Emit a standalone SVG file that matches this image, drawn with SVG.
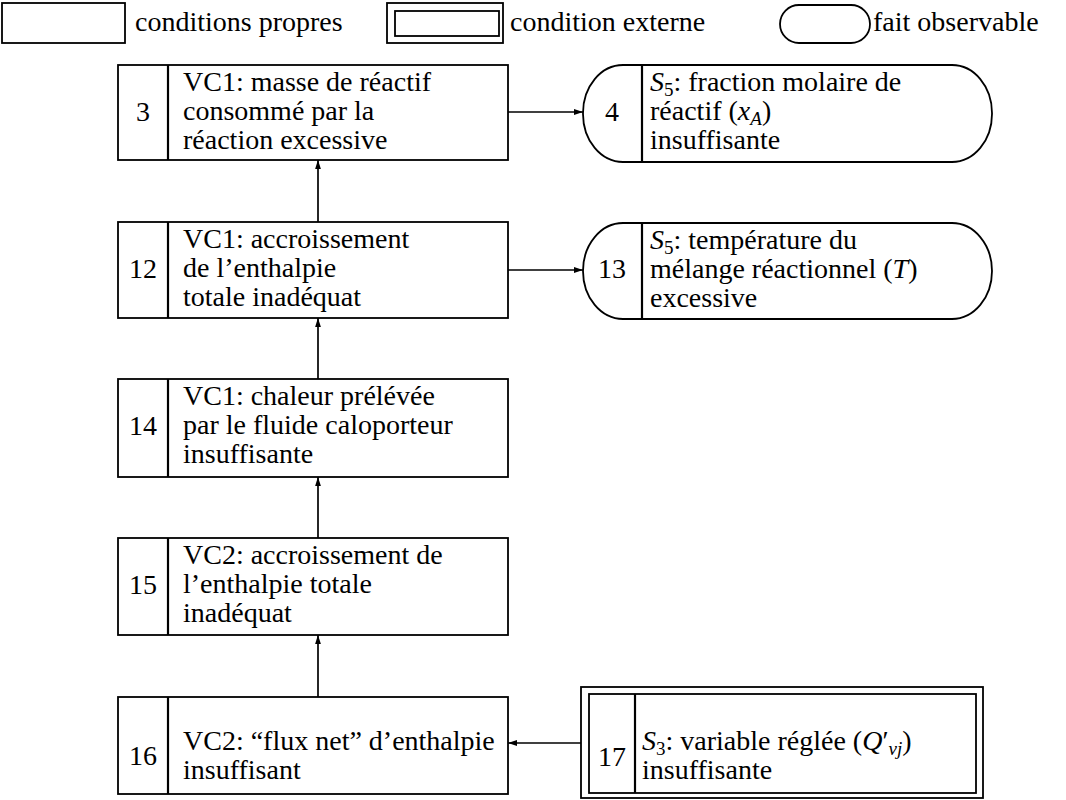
<svg xmlns="http://www.w3.org/2000/svg" width="1066" height="800" viewBox="0 0 1066 800">
<defs>
<marker id="ah" viewBox="0 0 10 10" refX="10" refY="5" markerWidth="9" markerHeight="9" markerUnits="userSpaceOnUse" orient="auto"><path d="M0,1.8 L10,5 L0,8.2 z" fill="#000"/></marker>
</defs>
<style>
text{font-family:"Liberation Serif","Times New Roman",serif;font-size:28px;fill:#000}
.box{fill:#fff;stroke:#000;stroke-width:1.8}
.div{stroke:#000;stroke-width:2.2}
.num{text-anchor:middle}
.conn{stroke:#000;stroke-width:1.7;fill:none;marker-end:url(#ah)}
.m{font-style:italic}
.sub{font-size:19px}
</style>
<rect width="1066" height="800" fill="#fff"/>
<g id="legend">
<rect class="box" x="2" y="3" width="123" height="40"/>
<text x="135" y="31">conditions propres</text>
<rect class="box" x="387" y="3" width="116" height="40"/>
<rect class="box" x="395" y="11" width="104" height="25"/>
<text x="510" y="31">condition externe</text>
<rect class="box" x="780" y="5" width="90" height="38" rx="19"/>
<text x="873" y="31">fait observable</text>
</g>
<g id="connectors">
<path class="conn" d="M508,112 H583"/>
<path class="conn" d="M508,270 H583"/>
<path class="conn" d="M318,222 V160"/>
<path class="conn" d="M318,379 V318"/>
<path class="conn" d="M318,538 V477"/>
<path class="conn" d="M318,697 V635"/>
<path class="conn" d="M581,743 H508"/>
</g>
<g id="n3">
<rect class="box" x="118" y="65" width="390" height="95"/>
<line class="div" x1="168" y1="65" x2="168" y2="160"/>
<text class="num" x="143" y="121">3</text>
<text x="183" y="91">VC1: masse de réactif</text>
<text x="183" y="120">consommé par la</text>
<text x="183" y="149">réaction excessive</text>
</g>
<g id="n4">
<rect class="box" x="583" y="65" width="409" height="97" rx="40" ry="48"/>
<line class="div" x1="642" y1="65" x2="642" y2="162"/>
<text class="num" x="612" y="121">4</text>
<text x="650" y="91"><tspan class="m">S</tspan><tspan class="sub" baseline-shift="-5">5</tspan>: fraction molaire de</text>
<text x="650" y="120">réactif (<tspan class="m">x</tspan><tspan class="sub m" baseline-shift="-5">A</tspan>)</text>
<text x="650" y="149">insuffisante</text>
</g>
<g id="n12">
<rect class="box" x="118" y="222" width="390" height="96"/>
<line class="div" x1="168" y1="222" x2="168" y2="318"/>
<text class="num" x="143" y="278">12</text>
<text x="183" y="248">VC1: accroissement</text>
<text x="183" y="277">de l’enthalpie</text>
<text x="183" y="306">totale inadéquat</text>
</g>
<g id="n13">
<rect class="box" x="583" y="223" width="409" height="96" rx="40" ry="48"/>
<line class="div" x1="642" y1="223" x2="642" y2="319"/>
<text class="num" x="612" y="278">13</text>
<text x="650" y="249"><tspan class="m">S</tspan><tspan class="sub" baseline-shift="-5">5</tspan>: température du</text>
<text x="650" y="278">mélange réactionnel (<tspan class="m">T</tspan>)</text>
<text x="650" y="307">excessive</text>
</g>
<g id="n14">
<rect class="box" x="118" y="379" width="390" height="98"/>
<line class="div" x1="168" y1="379" x2="168" y2="477"/>
<text class="num" x="143" y="435">14</text>
<text x="183" y="405">VC1: chaleur prélévée</text>
<text x="183" y="434">par le fluide caloporteur</text>
<text x="183" y="463">insuffisante</text>
</g>
<g id="n15">
<rect class="box" x="118" y="538" width="390" height="97"/>
<line class="div" x1="168" y1="538" x2="168" y2="635"/>
<text class="num" x="143" y="594">15</text>
<text x="183" y="564">VC2: accroissement de</text>
<text x="183" y="593">l’enthalpie totale</text>
<text x="183" y="622">inadéquat</text>
</g>
<g id="n16">
<rect class="box" x="118" y="697" width="390" height="97"/>
<line class="div" x1="168" y1="697" x2="168" y2="794"/>
<text class="num" x="143" y="765">16</text>
<text x="183" y="750">VC2: “flux net” d’enthalpie</text>
<text x="183" y="779">insuffisant</text>
</g>
<g id="n17">
<rect class="box" x="581" y="687" width="402" height="111"/>
<rect class="box" x="589" y="694" width="387" height="99"/>
<line class="div" x1="635" y1="694" x2="635" y2="793"/>
<text class="num" x="612" y="766">17</text>
<text x="642" y="750"><tspan class="m">S</tspan><tspan class="sub" baseline-shift="-5">3</tspan>: variable réglée (<tspan class="m">Q</tspan>′<tspan class="sub m" baseline-shift="-5">vj</tspan>)</text>
<text x="642" y="779">insuffisante</text>
</g>
</svg>
